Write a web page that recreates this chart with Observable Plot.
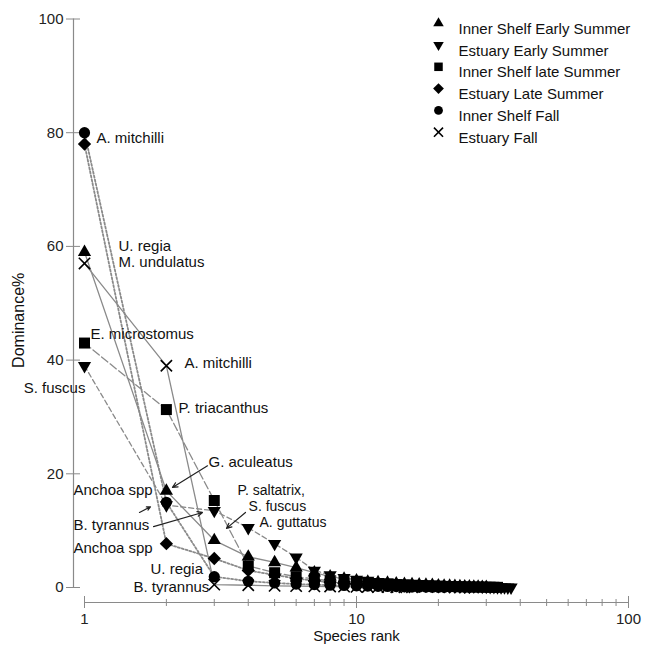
<!DOCTYPE html>
<html>
<head>
<meta charset="utf-8">
<script src="https://cdn.jsdelivr.net/npm/d3@7"></script>
<script src="https://cdn.jsdelivr.net/npm/@observablehq/plot@0.6"></script>
<style>
  body { margin: 0; background: #fff; }
  #chart svg { display: block; }
</style>
</head>
<body>
<div id="chart"></div>
<script>
// ---- data ----
const seriesNames = [
  "Inner Shelf Early Summer",
  "Estuary Early Summer",
  "Inner Shelf late Summer",
  "Estuary Late Summer",
  "Inner Shelf Fall",
  "Estuary Fall"
];
const innerShelfEarlySummer = [59, 17, 8.3, 5.4, 4.4, 3.5, 2.6, 1.9, 1.5, 1.2, 1.0, 0.9, 0.8, 0.7, 0.6, 0.55, 0.5, 0.45, 0.4, 0.35, 0.3, 0.27, 0.24, 0.2, 0.17, 0.15, 0.12, 0.1, 0.08, 0.06];
const estuaryEarlySummer = [39, 14.5, 13.5, 10.5, 7.7, 5.3, 3.0, 2.2, 1.7, 1.4, 1.2, 1.0, 0.9, 0.8, 0.7, 0.6, 0.55, 0.5, 0.45, 0.4, 0.35, 0.32, 0.3, 0.27, 0.25, 0.22, 0.2, 0.18, 0.16, 0.14, 0.12, 0.1, 0.08, 0.07, 0.05, 0.04, 0.03];
const innerShelfLateSummer = [43, 31.3, 15.3, 3.8, 2.6, 1.9, 1.5, 1.2, 1.0, 0.9, 0.8, 0.7, 0.6, 0.5, 0.45, 0.4, 0.35, 0.3, 0.27, 0.24, 0.2, 0.18, 0.16, 0.14, 0.12, 0.1, 0.09, 0.08, 0.07, 0.06, 0.05, 0.04, 0.03];
const estuaryLateSummer = [78, 7.7, 5.1, 3.0, 2.2, 1.6, 1.2, 0.9, 0.7, 0.6, 0.5, 0.45, 0.4, 0.35, 0.3, 0.25, 0.2, 0.18, 0.15, 0.12, 0.1, 0.08, 0.06, 0.05, 0.04, 0.03];
const innerShelfFall = [80, 15, 1.9, 1.1, 0.8, 0.6, 0.5, 0.4, 0.35, 0.3, 0.25, 0.2, 0.18, 0.15, 0.12, 0.1, 0.08, 0.06, 0.05, 0.04, 0.03];
const estuaryFall = [57, 39, 0.5, 0.4, 0.3, 0.25, 0.2, 0.18, 0.15, 0.12, 0.1, 0.08, 0.06, 0.05, 0.04, 0.03];
const seriesValues = [innerShelfEarlySummer, estuaryEarlySummer, innerShelfLateSummer, estuaryLateSummer, innerShelfFall, estuaryFall];

const yTicks = [0, 20, 40, 60, 80, 100];
const xMajorTicks = [1, 10, 100];
const xMinorTicks = [2, 3, 4, 5, 6, 7, 8, 9, 20, 30, 40, 50, 60, 70, 80, 90];
const yTitle = "Dominance%";
const yTitleValue = 47;   // vertical centre of the rotated title, in % units
const xTitle = "Species rank";

// species annotations (rank, dominance %)
const labelTexts  = ["A. mitchilli", "U. regia", "M. undulatus", "E. microstomus", "A. mitchilli", "P. triacanthus", "G. aculeatus", "Anchoa spp", "B. tyrannus", "Anchoa spp", "U. regia", "B. tyrannus"];
const labelRanks  = [1.107, 1.334, 1.334, 1.052, 2.33, 2.216, 2.857, 0.911, 0.911, 0.911, 1.748, 1.514];
const labelValues = [79.0, 60.1, 57.3, 44.6, 39.4, 31.6, 22.1, 17.2, 10.9, 6.9, 3.3, 0.0];
// tightly stacked annotation block
const stackTexts  = ["P. saltatrix,", "S. fuscus", "A. guttatus"];
const stackRanks  = [3.65, 4.01, 4.40];
const stackValues = [17.0, 14.2, 11.5];
const endLabelTexts = ["S. fuscus"];
const endLabelRanks = [1.008];
const endLabelValues = [35.1];

// annotation arrows
const arrowRank1  = [2.833, 1.593, 1.794, 3.907];
const arrowValue1 = [21.4, 13.2, 10.7, 13.2];
const arrowRank2  = [2.106, 1.748, 2.715, 3.327];
const arrowValue2 = [17.6, 14.2, 13.2, 10.4];

// ---- tables ----
const rows = seriesNames.flatMap((name, i) =>
  seriesValues[i].map((v, j) => ({series: name, rank: j + 1, value: v})));
const labels = labelTexts.map((t, i) => ({text: t, rank: labelRanks[i], value: labelValues[i]}));
const stack = stackTexts.map((t, i) => ({text: t, rank: stackRanks[i], value: stackValues[i]}));
const endLabels = endLabelTexts.map((t, i) => ({text: t, rank: endLabelRanks[i], value: endLabelValues[i]}));
const arrows = arrowRank1.map((r, i) => ({x1: r, y1: arrowValue1[i], x2: arrowRank2[i], y2: arrowValue2[i]}));

// ---- styles ----
const FONT = "Liberation Sans, Arial, sans-serif";
const LINE = "#8a8a8a";
const styles = [
  {symbol: "triangle", rotate: 0,   r: 4.9, dash: null,  width: 1.3},
  {symbol: "triangle", rotate: 180, r: 4.9, dash: "5,3", width: 1.3},
  {symbol: "square",   rotate: 0,   r: 6.2, dash: "8,3", width: 1.3},
  {symbol: "square",   rotate: 45,  r: 5.3, dash: "2,2", width: 1.8},
  {symbol: "circle",   rotate: 0,   r: 5.6, dash: "2,2", width: 1.8},
  {symbol: "times",    rotate: 0,   r: 5.2, dash: null,  width: 1.3}
];
const legendStyles = [
  {r: 3.9}, {r: 3.9}, {r: 4.8}, {r: 4.3}, {r: 4.4}, {r: 4.2}
];

const marks = [];
// axes
marks.push(Plot.ruleX([1], {y1: 0, y2: 100, dx: -11, stroke: LINE, strokeWidth: 1.2}));
marks.push(Plot.axisY({ticks: yTicks, tickSize: 14, dx: -4, tickPadding: 3, stroke: LINE, fill: "#222", fontSize: 15, label: null}));
marks.push(Plot.ruleY([0], {x1: 1, x2: 100, dy: 15, stroke: LINE, strokeWidth: 1.2}));
marks.push(Plot.axisX({ticks: xMajorTicks, tickSize: 12, dy: 9, tickPadding: 5, tickFormat: d => String(d), stroke: LINE, fill: "#222", fontSize: 15, label: null}));
marks.push(Plot.axisX({ticks: xMinorTicks, tickSize: 7, dy: 12, tickFormat: () => "", stroke: LINE, label: null}));

// series lines
seriesNames.forEach((name, i) => {
  const s = styles[i];
  marks.push(Plot.line(rows.filter(d => d.series === name), {
    x: "rank", y: "value", stroke: LINE, strokeWidth: s.width,
    strokeDasharray: s.dash || undefined
  }));
});
// series markers
seriesNames.forEach((name, i) => {
  const s = styles[i];
  const isStroke = s.symbol === "times";
  marks.push(Plot.dot(rows.filter(d => d.series === name), {
    x: "rank", y: "value", symbol: s.symbol, r: s.r, rotate: s.rotate,
    fill: isStroke ? "none" : "#000", stroke: isStroke ? "#000" : "none",
    strokeWidth: isStroke ? 1.6 : 0
  }));
});

// annotations
marks.push(Plot.arrow(arrows, {x1: "x1", y1: "y1", x2: "x2", y2: "y2", stroke: "#222", strokeWidth: 1.2, headLength: 7, headAngle: 50}));
marks.push(Plot.text(labels, {x: "rank", y: "value", text: "text", textAnchor: "start", fontSize: 15, fill: "#111", fontFamily: FONT}));
marks.push(Plot.text(stack, {x: "rank", y: "value", text: "text", textAnchor: "start", fontSize: 14, fill: "#111", fontFamily: FONT}));
marks.push(Plot.text(endLabels, {x: "rank", y: "value", text: "text", textAnchor: "end", fontSize: 15, fill: "#111", fontFamily: FONT}));

// legend
seriesNames.forEach((name, i) => {
  const s = styles[i];
  const isStroke = s.symbol === "times";
  const rowDy = 4.2 + 21.8 * i;
  marks.push(Plot.dot([name], {
    frameAnchor: "top-left", dx: 354, dy: rowDy, symbol: s.symbol, rotate: s.rotate,
    r: legendStyles[i].r, fill: isStroke ? "none" : "#000", stroke: isStroke ? "#000" : "none",
    strokeWidth: isStroke ? 1.6 : 0
  }));
  marks.push(Plot.text([name], {
    frameAnchor: "top-left", dx: 374, dy: rowDy, text: d => d, textAnchor: "start",
    fontSize: 15, fill: "#111", fontFamily: FONT
  }));
});

// axis titles
marks.push(Plot.text([yTitle], {y: () => yTitleValue, frameAnchor: "left", textAnchor: "middle", dx: -66, rotate: -90, text: d => d, fontSize: 16, fill: "#111", fontFamily: FONT}));
marks.push(Plot.text([xTitle], {frameAnchor: "bottom", dy: 53, fontSize: 15, fill: "#111", fontFamily: FONT}));

const chart = Plot.plot({
  width: 646,
  height: 651,
  marginLeft: 84,
  marginRight: 18,
  marginTop: 18.5,
  marginBottom: 64,
  style: {fontFamily: FONT, fontSize: "15px", background: "#fff", color: "#111"},
  x: {type: "log", domain: [1, 100]},
  y: {domain: [0, 100]},
  marks
});
document.getElementById("chart").appendChild(chart);
</script>
</body>
</html>
